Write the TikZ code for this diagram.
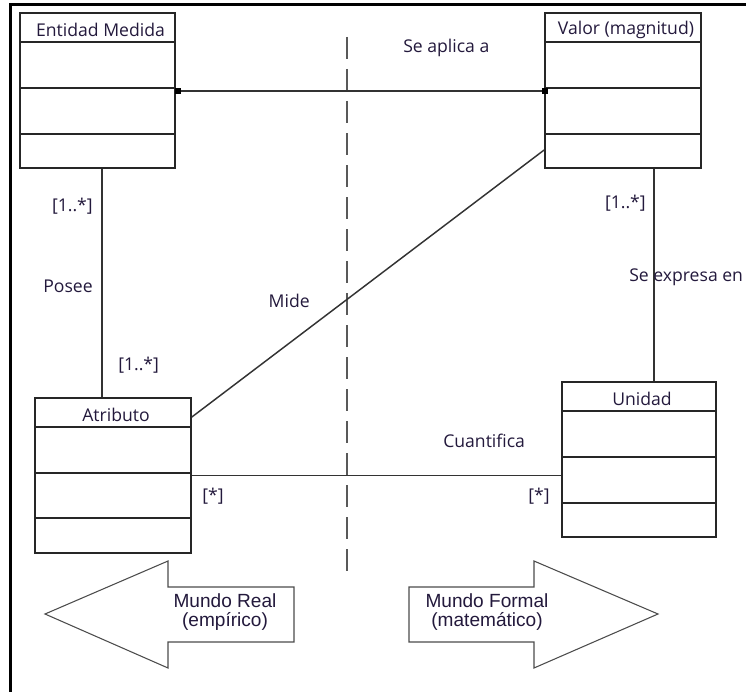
\documentclass[tikz,border=0pt]{standalone}
\usepackage{fontspec}
\setmainfont{Open Sans}
\newfontfamily\arialfont{Liberation Sans}
\usetikzlibrary{calc,fit}
\definecolor{tinta}{RGB}{35,25,60}
\tikzset{
  caja/.style={draw=black!85, line width=1.3pt, inner sep=0pt},
  division/.style={draw=black!85, line width=1.3pt},
  enlace/.style={draw=black!80, line width=1.1pt},
  cuadro/.style={fill=black, inner sep=0pt, minimum size=4.5pt},
  etiqueta/.style={inner sep=0pt, text=tinta, font=\fontsize{13.2}{15}\selectfont},
  flecha/.style={draw=black!70, line width=0.8pt, fill=white},
  mundo/.style={align=center, inner sep=0pt, text=tinta, font=\arialfont\fontsize{14.3}{14.3}\selectfont},
  divisoria/.style={draw=black!65, line width=1pt, dash pattern=on 16.5pt off 7.5pt},
}
% clase(name)(left:right)(top:head:lineA:lineB:bottom){title}
\def\clase(#1)(#2:#3)(#4:#5:#6:#7:#8)#9{%
  \node[caja, fit={(#2,#4) (#3,#8)}] (#1) {};
  \draw[division] (#2,#5) coordinate (#1-h) -- (#3,#5);
  \draw[division] (#2,#6) coordinate (#1-a) -- (#3,#6);
  \draw[division] (#2,#7) coordinate (#1-b) -- (#3,#7);
  \node[etiqueta] (#1-titulo) at ({(#2+#3)/2+3},{(#4+#5)/2+2}) {#9};
}

\begin{document}
\begin{tikzpicture}[x=0.75pt, y=-0.75pt]
		%%%%% START %%%%%
		\useasboundingbox (0,0) rectangle (746,692);
		
		% marco
		\draw[line width=2.25pt] (10,692) -- (10,5) -- (746,5);
		
		% mundo real | mundo formal
		\coordinate (arriba) at (347,37);
		\coordinate (abajo) at (347,580);
		\draw[divisoria] (arriba) -- (abajo);
		
		\clase(ent)(20:175)(13:42:88:134:168){Entidad Medida}
		\clase(val)(545:701)(13:42:88:134:168){Valor (magnitud)}
		\clase(atr)(35:191)(398:427:473:518:553){Atributo}
		\clase(uni)(562:716)(382:411:457:503:537){Unidad}
		
		% se aplica a
		\node[cuadro] (sqent) at ($(ent.east |- ent-a)+(2,3)$) {};
		\node[cuadro] (sqval) at ($(val.west |- val-a)+(1,3)$) {};
		\draw[enlace] (sqent) -- (sqval);
		
		% posee
		\draw[enlace] ([xshift=3.4pt]ent.south) -- ([xshift=3.4pt]ent.south |- atr.north);
		
		% se expresa en
		\draw[enlace] ([xshift=23.25pt]val.south) -- ([xshift=23.25pt]val.south |- uni.north);
		
		% mide
		\draw[enlace] ($(val.west |- val-b)+(0,16)$) -- ($(atr.east |- atr-h)+(0,-10)$);
		
		% cuantifica
		\draw[enlace] (atr.east) -- (uni.west |- atr.east);
		
		\node[etiqueta, anchor=west] (seaplica) at (403,48) {Se aplica a};
		\node[etiqueta, anchor=east] (mentA) at (93,206) {[1..*]};
		\node[etiqueta, anchor=east] (posee) at (93,286) {Posee};
		\node[etiqueta, anchor=west] (matrA) at (118,365) {[1..*]};
		\node[etiqueta, anchor=east] (mvalA) at (646,203) {[1..*]};
		\node[etiqueta, anchor=west] (seexpresa) at (629,277) {Se expresa en};
		\node[etiqueta, anchor=east] (mide) at (310,301) {Mide};
		\node[etiqueta, anchor=west] (cuantifica) at (443,441) {Cuantifica};
		\node[etiqueta, anchor=west] (matrB) at (202,496) {[*]};
		\node[etiqueta, anchor=east] (muniB) at (550,496) {[*]};
		
		% flechas de abajo
		\draw[flecha] (45,614) -- (168,561) -- (168,587) -- (294,587) -- (294,642) -- (168,642) -- (168,668) -- cycle;
		\draw[flecha] (658,614) -- (534,561) -- (534,587) -- (409,587) -- (409,642) -- (534,642) -- (534,668) -- cycle;
		\node[mundo] (real) at (225,612) {Mundo Real\\(empírico)};
		\node[mundo] (formal) at (487,612) {Mundo Formal\\(matemático)};
		
		%%%%% END %%%%%
	\end{tikzpicture}
\end{document}
